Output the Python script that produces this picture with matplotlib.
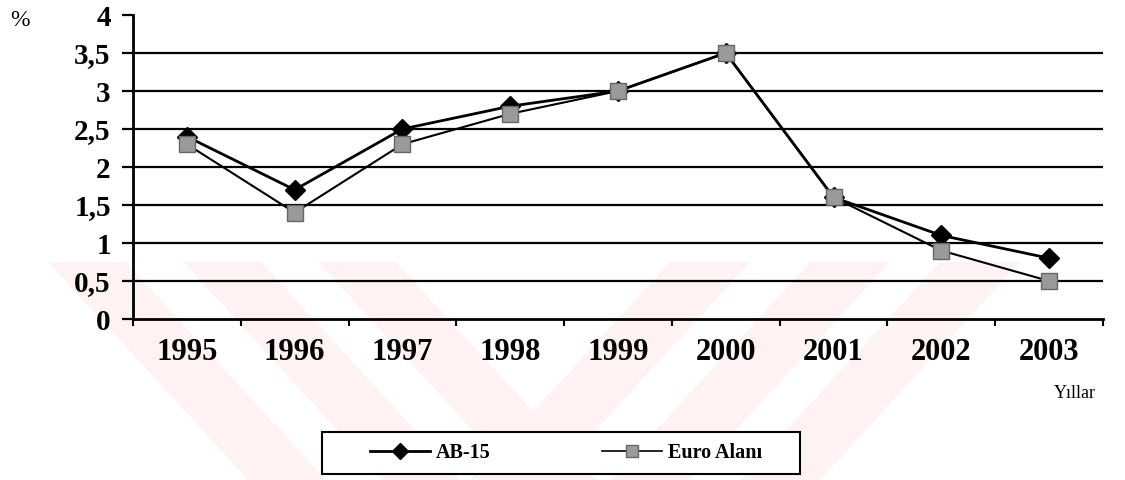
import numpy as np
import matplotlib
matplotlib.use("Agg")
import matplotlib.pyplot as plt
from matplotlib.patches import Polygon, Rectangle
from matplotlib.lines import Line2D

# Data
years = ["1995", "1996", "1997", "1998", "1999", "2000", "2001", "2002", "2003"]
ab15 = [2.4, 1.7, 2.5, 2.8, 3.0, 3.5, 1.6, 1.1, 0.8]
euro_alani = [2.3, 1.4, 2.3, 2.7, 3.0, 3.5, 1.6, 0.9, 0.5]
y_ticks = [0, 0.5, 1, 1.5, 2, 2.5, 3, 3.5, 4]
y_labels = ["0", "0,5", "1", "1,5", "2", "2,5", "3", "3,5", "4"]

plt.rcParams["font.family"] = ["Liberation Serif", "DejaVu Serif"]

W, H = 1125, 480
fig = plt.figure(figsize=(11.25, 4.8), dpi=100)


def px(x, y):
    # pixel (top-left origin) -> figure fraction
    return (x / W, 1 - y / H)


# faint watermark bands in the lower part of the page
pink = "#fef2f4"
for x0 in [48, 183, 318]:
    pts = [px(x0, 262), px(x0 + 78, 262), px(x0 + 78 + 200, 480), px(x0 + 200, 480)]
    fig.patches.append(Polygon(pts, closed=True, transform=fig.transFigure,
                               facecolor=pink, edgecolor="none", zorder=-1))
for x0 in [560, 700, 830]:
    pts = [px(x0 + 110, 262), px(x0 + 190, 262), px(x0 - 10, 480), px(x0 - 90, 480)]
    fig.patches.append(Polygon(pts, closed=True, transform=fig.transFigure,
                               facecolor=pink, edgecolor="none", zorder=-1))

left, right = 133 / W, 1103 / W
top, bottom = 1 - 15 / H, 1 - 319 / H
ax = fig.add_axes([left, bottom, right - left, top - bottom])
ax.patch.set_alpha(0)

x = np.arange(len(years)) + 0.5
ax.plot(x, ab15, color="black", lw=2, marker="D", markersize=10,
        markerfacecolor="black", markeredgecolor="black", zorder=4, clip_on=False)
ax.plot(x, euro_alani, color="black", lw=1.5, marker="s", markersize=11,
        markerfacecolor="#9a9a9a", markeredgecolor="#666666", markeredgewidth=1,
        zorder=5, clip_on=False)

ax.set_xlim(0, len(years))
ax.set_ylim(0, 4)

for v in y_ticks[1:-1]:
    ax.axhline(v, color="black", lw=1.6, zorder=1)

ax.set_yticks(y_ticks)
ax.set_yticklabels(y_labels, fontsize=21, fontweight="bold")
ax.tick_params(axis="y", direction="out", length=8, width=1.6, pad=8)

ax.set_xticks(np.arange(len(years) + 1))
ax.set_xticklabels([])
ax.set_xticks(x, minor=True)
ax.set_xticklabels(years, minor=True, fontsize=22, fontweight="bold")
ax.tick_params(axis="x", which="major", direction="out", length=5, width=1.5)
ax.tick_params(axis="x", which="minor", length=0, pad=14)

for s in ["top", "right"]:
    ax.spines[s].set_visible(False)
ax.spines["left"].set_linewidth(2)
ax.spines["bottom"].set_linewidth(2)

fig.text(10 / W, 1 - 20 / H, "%", fontsize=17, ha="left", va="center")
fig.text(1075 / W, 1 - 393 / H, "Yıllar", fontsize=13, ha="center", va="center")

# legend with its own frame
fig.patches.append(Rectangle(px(322, 474), 478 / W, 42 / H, transform=fig.transFigure,
                             facecolor="white", edgecolor="black", lw=1.5, zorder=2))
handles = [
    Line2D([], [], color="black", lw=2, marker="D", markersize=8,
           markerfacecolor="black", markeredgecolor="black"),
    Line2D([], [], color="black", lw=1.2, marker="s", markersize=9,
           markerfacecolor="#9a9a9a", markeredgecolor="#666666"),
]
fig.legend(handles, ["AB-15", "Euro Alanı"], loc="center",
           bbox_to_anchor=(566 / W, 1 - 453 / H), ncol=2, frameon=False,
           prop={"size": 14.5, "weight": "bold"}, handlelength=3.0,
           handletextpad=0.3, columnspacing=5.5)

fig.savefig("out.png", dpi=100)
